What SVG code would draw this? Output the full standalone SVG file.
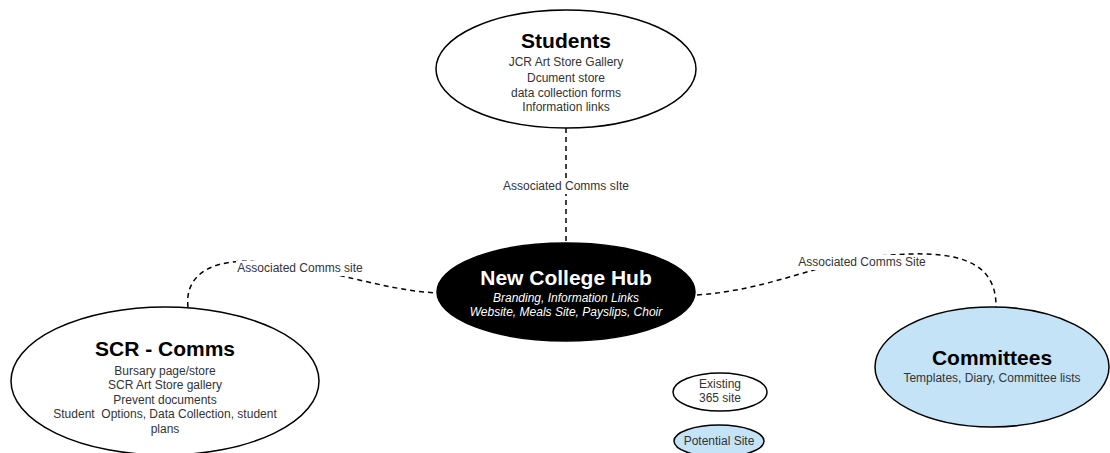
<svg xmlns="http://www.w3.org/2000/svg" width="1110" height="453" viewBox="0 0 1110 453">
<style>
.shape{stroke:#000;stroke-width:1.5}
.white{fill:#fff}
.blue{fill:#c4e3f6}
.black{fill:#000}
.t{font-family:"Liberation Sans",Arial,sans-serif;text-anchor:middle;fill:#333}
.title{font-size:21px;font-weight:bold;fill:#000}
.sub{font-size:12px}
.hubt{fill:#fff}
.it{font-style:italic}
.conn{fill:none;stroke:#000;stroke-width:1.5;stroke-dasharray:5 4}
.lbl{font-family:"Liberation Sans",Arial,sans-serif;font-size:12px;text-anchor:middle;fill:#333}
</style>
<rect width="1110" height="453" fill="#fff"/>
<g id="connectors">
<path class="conn" d="M566,128 L566,243"/>
<path class="conn" d="M188,307 C184,270 220,258 260,262 C330,268 380,290 437,293"/>
<path class="conn" d="M697,295 C770,290 820,262 880,256 C960,248 997,262 996,308"/>
<rect x="501" y="179" width="130" height="15" fill="#fff"/>
<text class="lbl" x="566" y="190">Associated Comms sIte</text>
<rect x="236" y="261" width="128" height="15" fill="#fff"/>
<text class="lbl" x="300" y="272">Associated Comms site</text>
<rect x="797" y="255" width="130" height="15" fill="#fff"/>
<text class="lbl" x="862" y="266">Associated Comms Site</text>
</g>
<g id="students">
<ellipse class="shape white" cx="566" cy="69" rx="130" ry="59"/>
<text class="t title" x="566" y="48">Students</text>
<text class="t sub" x="566" y="66">JCR Art Store Gallery</text>
<text class="t sub" x="566" y="82">Dcument store</text>
<text class="t sub" x="566" y="97">data collection forms</text>
<text class="t sub" x="566" y="111">Information links</text>
</g>
<g id="hub">
<ellipse class="shape black" cx="566" cy="292" rx="129" ry="49"/>
<text class="t title hubt" x="566" y="285">New College Hub</text>
<text class="t sub hubt it" x="566" y="302">Branding, Information Links</text>
<text class="t sub hubt it" x="566" y="316">Website, Meals Site, Payslips, Choir</text>
</g>
<g id="scr">
<ellipse class="shape white" cx="165" cy="381" rx="154" ry="74"/>
<text class="t title" x="165" y="356">SCR - Comms</text>
<text class="t sub" x="165" y="375">Bursary page/store</text>
<text class="t sub" x="165" y="389">SCR Art Store gallery</text>
<text class="t sub" x="165" y="404">Prevent documents</text>
<text class="t sub" x="165" y="418" xml:space="preserve">Student  Options, Data Collection, student</text>
<text class="t sub" x="165" y="433">plans</text>
</g>
<g id="committees">
<ellipse class="shape blue" cx="992" cy="367" rx="117" ry="60"/>
<text class="t title" x="992" y="365">Committees</text>
<text class="t sub" x="992" y="382">Templates, Diary, Committee lists</text>
</g>
<g id="legend-existing">
<ellipse class="shape white" cx="720" cy="392" rx="47" ry="19"/>
<text class="t sub" x="720" y="388">Existing</text>
<text class="t sub" x="720" y="402">365 site</text>
</g>
<g id="legend-potential">
<ellipse class="shape blue" cx="719" cy="441" rx="45" ry="16"/>
<text class="t sub" x="719" y="445">Potential Site</text>
</g>
</svg>
